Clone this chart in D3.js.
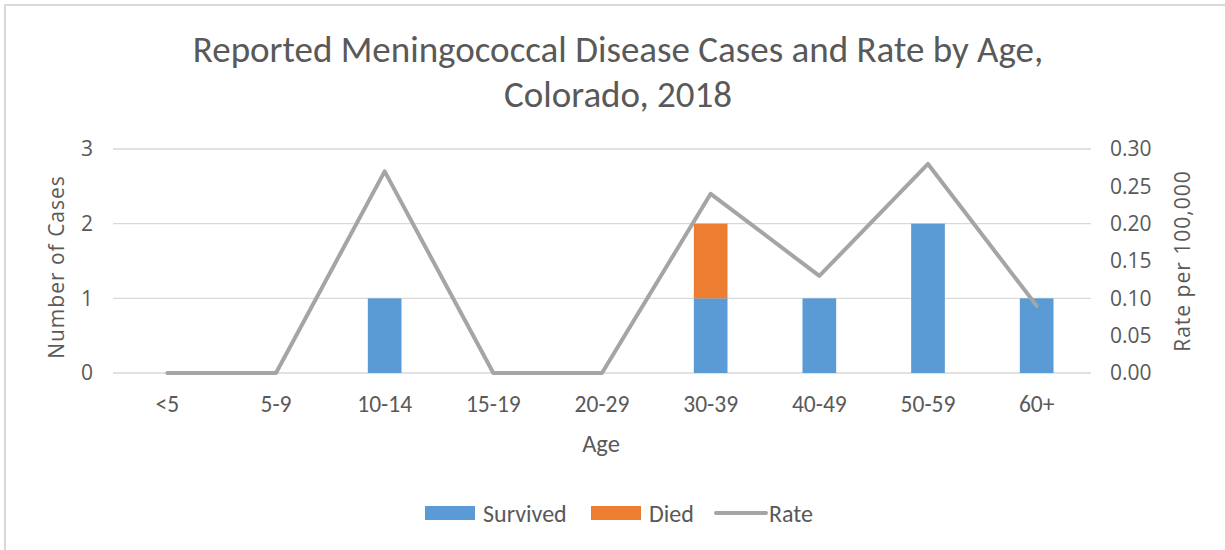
<!DOCTYPE html>
<html lang="en">
<head>
<meta charset="utf-8">
<title>Meningococcal Disease, Colorado 2018</title>
<script src="https://cdn.jsdelivr.net/npm/d3@7/dist/d3.min.js"></script>
<style>
  body { margin: 0; background: #fff; }
  .narrow { font-family: Carlito, "Liberation Sans Narrow", "Open Sans", sans-serif; }
  .wide { font-family: "Open Sans", "DejaVu Sans", sans-serif; }
  text { fill: #595959; }
</style>
</head>
<body>
<svg id="chart" width="1225" height="550"></svg>
<script>
// data
var ageGroups = ["<5", "5-9", "10-14", "15-19", "20-29", "30-39", "40-49", "50-59", "60+"];
var survived = [0, 0, 1, 0, 0, 1, 1, 2, 1];
var died     = [0, 0, 0, 0, 0, 1, 0, 0, 0];
var rate     = [0, 0, 0.27, 0, 0, 0.24, 0.13, 0.28, 0.09];
var casesTicks = [0, 1, 2, 3];
var rateTicks = [0, 0.05, 0.10, 0.15, 0.20, 0.25, 0.30];

var svg = d3.select("#chart");

// outer frame (only top/left visible in the crop)
svg.append("rect").attr("x", 5).attr("y", 5).attr("width", 1240).attr("height", 560)
  .attr("fill", "none").attr("stroke", "#d9d9d9").attr("stroke-width", 2);

var plot = { left: 113, right: 1091, top: 149, bottom: 373 };

var x = d3.scaleBand().domain(ageGroups).range([plot.left, plot.right]).paddingInner(0.69).paddingOuter(0.345);
var yCases = d3.scaleLinear().domain([0, 3]).range([plot.bottom, plot.top]);
var yRate = d3.scaleLinear().domain([0, 0.30]).range([plot.bottom, plot.top]);

// gridlines
svg.append("g").selectAll("line").data(casesTicks).join("line")
  .attr("x1", plot.left).attr("x2", plot.right)
  .attr("y1", function(d) { return yCases(d); }).attr("y2", function(d) { return yCases(d); })
  .attr("stroke", "#d9d9d9").attr("stroke-width", 1.3);

// left axis labels
var leftAxis = svg.append("g").attr("class", "wide")
  .attr("transform", "translate(" + (plot.left - 20) + ",0)")
  .call(d3.axisLeft(yCases).tickValues(casesTicks).tickSize(0).tickPadding(0).tickFormat(d3.format("d")));
leftAxis.select(".domain").remove();
leftAxis.selectAll("text").attr("font-size", 21).attr("fill", "#595959").attr("font-family", null);

// right axis labels
var rightAxis = svg.append("g").attr("class", "wide")
  .attr("transform", "translate(" + (plot.right + 19) + ",0)")
  .call(d3.axisRight(yRate).tickValues(rateTicks).tickSize(0).tickPadding(0).tickFormat(d3.format(".2f")));
rightAxis.select(".domain").remove();
rightAxis.selectAll("text").attr("font-size", 21).attr("fill", "#595959").attr("font-family", null);

// category labels
var bottomAxis = svg.append("g").attr("class", "narrow")
  .attr("transform", "translate(0," + (plot.bottom + 22) + ")")
  .call(d3.axisBottom(x).tickSize(0).tickPadding(0));
bottomAxis.select(".domain").remove();
bottomAxis.selectAll("text").attr("font-size", 23.5).attr("fill", "#595959").attr("font-family", null);

// stacked bars
var stacks = ageGroups.map(function(a, i) { return { age: a, survived: survived[i], died: died[i] }; });
var series = d3.stack().keys(["survived", "died"])(stacks);
var colors = { survived: "#5b9bd5", died: "#ed7d31" };

svg.append("g").selectAll("g").data(series).join("g")
  .attr("fill", function(d) { return colors[d.key]; })
  .selectAll("rect").data(function(d) { return d.filter(function(v) { return v[1] > v[0]; }); }).join("rect")
  .attr("x", function(d) { return x(d.data.age); })
  .attr("width", x.bandwidth())
  .attr("y", function(d) { return yCases(d[1]); })
  .attr("height", function(d) { return yCases(d[0]) - yCases(d[1]); });

// rate line
var line = d3.line()
  .x(function(d, i) { return x(ageGroups[i]) + x.bandwidth() / 2; })
  .y(function(d) { return yRate(d); });
svg.append("path").datum(rate)
  .attr("d", line)
  .attr("fill", "none").attr("stroke", "#a5a5a5").attr("stroke-width", 4)
  .attr("stroke-linejoin", "round").attr("stroke-linecap", "round");

// title
var title = svg.append("text").attr("class", "narrow")
  .attr("text-anchor", "middle").attr("font-size", 37).attr("x", 618);
title.append("tspan").attr("x", 618).attr("y", 62).text("Reported Meningococcal Disease Cases and Rate by Age,");
title.append("tspan").attr("x", 618).attr("y", 107).text("Colorado, 2018");

// axis titles
svg.append("text").attr("class", "wide").attr("font-size", 21).attr("letter-spacing", 1).attr("text-anchor", "middle")
  .attr("transform", "translate(64," + ((plot.top + plot.bottom) / 2 + 6) + ") rotate(-90)")
  .text("Number  of Cases");
svg.append("text").attr("class", "wide").attr("font-size", 21).attr("letter-spacing", 1).attr("text-anchor", "middle")
  .attr("transform", "translate(1190," + ((plot.top + plot.bottom) / 2) + ") rotate(-90)")
  .text("Rate per 100,000");
svg.append("text").attr("class", "narrow").attr("font-size", 24.5).attr("text-anchor", "middle")
  .attr("x", 601).attr("y", 452).text("Age");

// legend
var legend = svg.append("g").attr("class", "narrow");
var items = [
  { label: "Survived", type: "rect", color: colors.survived, x: 425, tx: 483 },
  { label: "Died", type: "rect", color: colors.died, x: 591, tx: 649 },
  { label: "Rate", type: "line", color: "#a5a5a5", x: 716, tx: 769 }
];
items.forEach(function(it) {
  if (it.type === "rect") {
    legend.append("rect").attr("x", it.x).attr("y", 506).attr("width", 50).attr("height", 14).attr("fill", it.color);
  } else {
    legend.append("line").attr("x1", it.x).attr("x2", it.x + 50).attr("y1", 513).attr("y2", 513)
      .attr("stroke", it.color).attr("stroke-width", 4).attr("stroke-linecap", "round");
  }
  legend.append("text").attr("x", it.tx).attr("y", 522).attr("font-size", 24).text(it.label);
});
</script>
</body>
</html>
